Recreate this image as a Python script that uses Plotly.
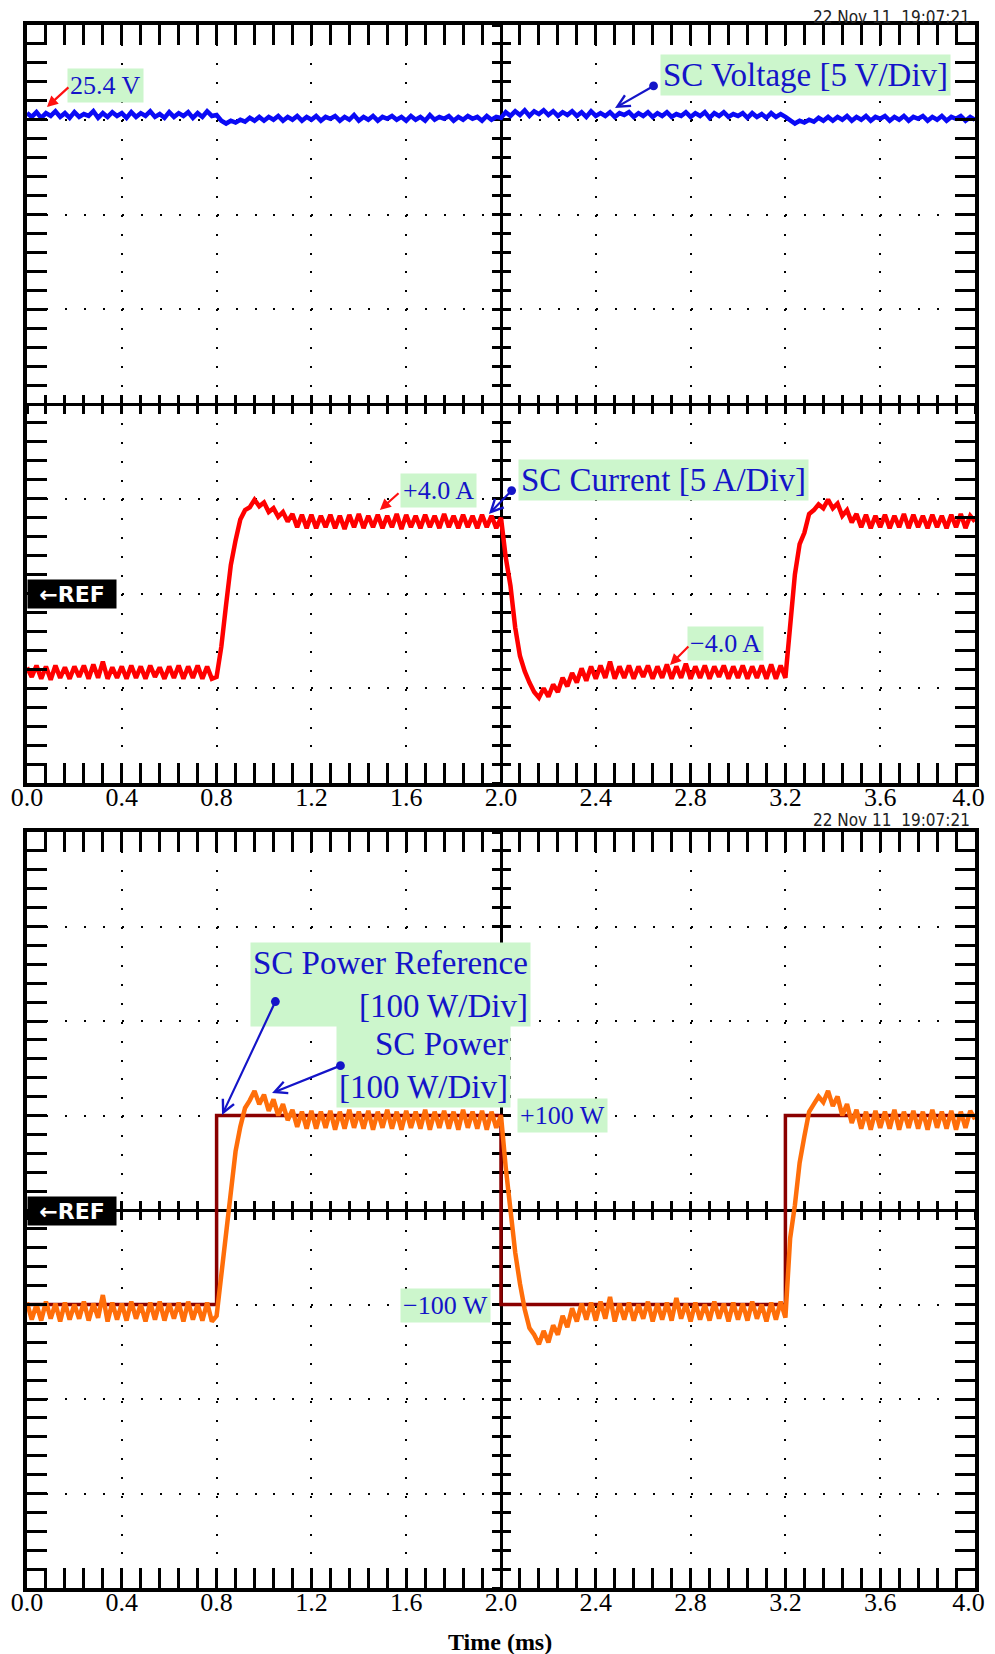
import plotly.graph_objects as go

# scope sample clock: 0.02 ms per point, 0 .. 4.0 ms
T_MS = [i / 50 for i in range(201)]

VOLTAGE_V = [
    25.35, 25.15, 25.4, 25.1, 25.35, 25.2, 25.45, 25.15, 25.35, 25.1,
    25.4, 25.15, 25.3, 25.2, 25.45, 25.1, 25.35, 25.15, 25.4, 25.2,
    25.35, 25.1, 25.4, 25.15, 25.35, 25.2, 25.45, 25.15, 25.3, 25.1,
    25.4, 25.15, 25.35, 25.2, 25.4, 25.1, 25.35, 25.15, 25.45, 25.2,
    25.25,
    24.95, 24.8, 24.95, 24.85, 25.0, 24.9, 25.1, 24.95, 25.15, 24.95,
    25.15, 25.0, 25.2, 24.95, 25.15, 25.0, 25.2, 24.95, 25.15, 25.0,
    25.2, 24.95, 25.15, 25.05, 25.2, 24.95, 25.15, 25.0, 25.25, 24.95,
    25.15, 25.0, 25.2, 24.95, 25.15, 25.05, 25.2, 25.0, 25.15, 24.95,
    25.2, 25.0, 25.15, 24.95, 25.25, 25.0, 25.15, 25.05, 25.2, 24.95,
    25.15, 25.0, 25.2, 25.05, 25.15, 24.95, 25.2, 25.0, 25.15, 25.1,
    25.4, 25.2, 25.45, 25.25, 25.5, 25.2, 25.45, 25.3, 25.5, 25.25,
    25.45, 25.2, 25.4, 25.25, 25.45, 25.2, 25.4, 25.15, 25.45, 25.2,
    25.35, 25.2, 25.4, 25.15, 25.35, 25.25, 25.4, 25.15, 25.35, 25.2,
    25.4, 25.15, 25.35, 25.2, 25.4, 25.15, 25.3, 25.2, 25.4, 25.15,
    25.35, 25.2, 25.4, 25.1, 25.35, 25.2, 25.4, 25.15, 25.3, 25.2,
    25.35, 25.1, 25.35, 25.15, 25.3, 25.1, 25.35, 25.15, 25.3, 25.15,
    24.95, 24.8, 24.95, 24.85, 25.0, 24.9, 25.1, 24.95, 25.15, 24.95,
    25.15, 25.0, 25.2, 24.95, 25.15, 25.0, 25.2, 24.95, 25.15, 25.05,
    25.2, 24.95, 25.15, 25.0, 25.2, 24.95, 25.15, 25.05, 25.2, 24.95,
    25.15, 25.0, 25.2, 24.95, 25.15, 25.05, 25.2, 24.95, 25.15, 25.0,
]

CURRENT_A = [
    -3.9, -4.4, -3.8, -4.5, -3.85, -4.55, -3.8, -4.45, -3.9, -4.5,
    -3.85, -4.4, -3.8, -4.5, -3.75, -4.45, -3.6, -4.5, -3.9, -4.45,
    -3.85, -4.5, -3.8, -4.45, -3.85, -4.5, -3.8, -4.4, -3.9, -4.5,
    -3.85, -4.45, -3.8, -4.5, -3.85, -4.45, -3.8, -4.5, -3.85, -4.5,
    -4.4,
    -2.8, -0.6, 1.5, 2.8, 3.9, 4.4, 4.55, 4.95, 4.6, 4.8,
    4.3, 4.5, 4.05, 4.3, 3.8, 4.2, 3.5, 4.15, 3.45, 4.15,
    3.45, 4.1, 3.5, 4.15, 3.45, 4.1, 3.4, 4.15, 3.5, 4.2,
    3.45, 4.1, 3.5, 4.15, 3.45, 4.1, 3.5, 4.2, 3.4, 4.15,
    3.5, 4.1, 3.45, 4.15, 3.5, 4.1, 3.45, 4.2, 3.5, 4.1,
    3.45, 4.15, 3.5, 4.1, 3.45, 4.15, 3.5, 4.1, 3.45, 4.0,
    1.9, 0.4, -1.8, -3.3, -4.1, -4.7, -5.2, -5.5, -5.0, -5.45,
    -4.8, -5.2, -4.45, -4.9, -4.2, -4.7, -3.95, -4.6, -3.85, -4.5,
    -3.8, -4.45, -3.6, -4.5, -3.85, -4.45, -3.8, -4.5, -3.85, -4.4,
    -3.8, -4.5, -3.85, -4.45, -3.75, -4.5, -3.85, -4.45, -3.7, -4.5,
    -3.85, -4.45, -3.8, -4.5, -3.85, -4.4, -3.8, -4.5, -3.85, -4.45,
    -3.8, -4.5, -3.85, -4.45, -3.8, -4.5, -3.75, -4.5, -3.8, -4.45,
    -1.5, 1.0, 2.6, 3.2, 4.2, 4.4, 4.7, 4.5, 4.95, 4.5,
    4.75, 4.1, 4.4, 3.75, 4.2, 3.5, 4.15, 3.45, 4.1, 3.5,
    4.15, 3.45, 4.1, 3.5, 4.2, 3.45, 4.15, 3.5, 4.1, 3.45,
    4.15, 3.5, 4.1, 3.45, 4.15, 3.5, 4.2, 3.45, 4.1, 3.8,
]

POWER_W = [
    -98, -116, -100, -117, -97, -115, -99, -118, -98, -116,
    -100, -115, -97, -117, -99, -114, -90, -118, -98, -116,
    -99, -117, -97, -115, -100, -118, -98, -116, -97, -117,
    -99, -115, -98, -118, -97, -116, -100, -117, -98, -118,
    -112,
    -70, -22, 12, 62, 88, 108, 116, 126, 112, 122,
    105, 117, 100, 112, 95, 106, 88, 104, 86, 105,
    86, 104, 87, 105, 85, 104, 86, 106, 87, 104,
    86, 105, 85, 104, 87, 106, 86, 104, 85, 105,
    87, 104, 86, 106, 85, 104, 87, 105, 86, 104,
    85, 106, 87, 104, 86, 105, 85, 104, 87, 100,
    45, -5, -45, -78, -105, -125, -132, -142, -128, -140,
    -122, -132, -112, -124, -104, -118, -99, -116, -98, -117,
    -97, -115, -92, -118, -99, -116, -98, -117, -100, -115,
    -97, -118, -99, -116, -98, -117, -93, -115, -99, -118,
    -98, -116, -100, -117, -97, -115, -99, -118, -98, -116,
    -99, -117, -97, -115, -100, -118, -98, -116, -97, -114,
    -30, 5, 50, 78, 104, 112, 120, 114, 126, 110,
    120, 100, 112, 92, 106, 86, 104, 85, 105, 87,
    104, 86, 106, 85, 104, 87, 105, 86, 104, 85,
    106, 87, 104, 86, 105, 85, 104, 87, 105, 96,
]

PREF_T = [0.0, 0.8, 0.8, 2.0, 2.0, 3.2, 3.2, 4.0]
PREF_W = [-100, -100, 100, 100, -100, -100, 100, 100]

X_TICKS = [0.0, 0.4, 0.8, 1.2, 1.6, 2.0, 2.4, 2.8, 3.2, 3.6, 4.0]
# trailing en space nudges the last label left so it stays on the page
X_TICKTEXT = ["0.0", "0.4", "0.8", "1.2", "1.6", "2.0", "2.4", "2.8", "3.2", "3.6",
              "4.0\u2002"]

# the page body keeps an 8 px margin, so lay the figure out 8 px in from the window edge
OFF = 8
FW, FH = 995 - OFF, 1654 - OFF


def xp(px):
    return (px - OFF) / FW


def yp(py):
    return 1 - (py - OFF) / FH


XD = [xp(27), xp(975)]
YD_TOP = [yp(783), yp(25)]
YD_BOT = [yp(1588), yp(832)]
X_MID = (XD[0] + XD[1]) / 2

SERIF = "Liberation Serif, Times New Roman, serif"
BLUE = "#1414c8"
GREEN = "#ccf6cc"
DOTS = "2px,16.96px"

fig = go.Figure()
fig.add_trace(go.Scatter(x=T_MS, y=VOLTAGE_V, mode="lines", line=dict(color="#0a0af5", width=4.5),
                         xaxis="x", yaxis="y", showlegend=False))
fig.add_trace(go.Scatter(x=T_MS, y=CURRENT_A, mode="lines", line=dict(color="#ff0000", width=4.5),
                         xaxis="x", yaxis="y", showlegend=False))
fig.add_trace(go.Scatter(x=PREF_T, y=PREF_W, mode="lines", line=dict(color="#8a0000", width=3.5),
                         xaxis="x2", yaxis="y2", showlegend=False))
fig.add_trace(go.Scatter(x=T_MS, y=POWER_W, mode="lines", line=dict(color="#ff6e0a", width=4.5),
                         xaxis="x2", yaxis="y2", showlegend=False))

# empty traces so the centre-cross axes get a subplot and are drawn
for xa, ya in [("x3", "y"), ("x4", "y"), ("x", "y3"), ("x", "y4"),
               ("x5", "y2"), ("x6", "y2"), ("x2", "y5"), ("x2", "y6")]:
    fig.add_trace(go.Scatter(x=[], y=[], xaxis=xa, yaxis=ya, showlegend=False, hoverinfo="skip"))


def frame_x(anchor):
    return dict(domain=XD, anchor=anchor, range=[0, 4], tickmode="array", tickvals=X_TICKS,
                ticktext=X_TICKTEXT, tickfont=dict(family=SERIF, size=26, color="black"),
                ticklabelstandoff=-12, ticklabeloverflow="allow",
                ticks="inside", ticklen=20, tickwidth=3, tickcolor="black",
                minor=dict(tickmode="linear", tick0=0, dtick=0.08, ticks="inside", ticklen=8,
                           tickwidth=2.5, tickcolor="black", showgrid=False),
                showline=True, linewidth=4, linecolor="black", mirror="allticks",
                showgrid=True, gridcolor="black", gridwidth=2, griddash=DOTS,
                zeroline=False, automargin=False, fixedrange=True)


def frame_y(anchor, domain, rng, step):
    return dict(domain=domain, anchor=anchor, range=rng, tickmode="linear", tick0=rng[0], dtick=step,
                showticklabels=False, ticks="inside", ticklen=20, tickwidth=3, tickcolor="black",
                minor=dict(tickmode="linear", tick0=rng[0], dtick=step / 5, ticks="inside", ticklen=8,
                           tickwidth=2.5, tickcolor="black", showgrid=False),
                showline=True, linewidth=4, linecolor="black", mirror="allticks",
                showgrid=True, gridcolor="black", gridwidth=2, griddash=DOTS,
                zeroline=False, automargin=False, fixedrange=True)


def cross_x(over, pos, side_ticks):
    return dict(overlaying=over, anchor="free", position=pos, range=[0, 4], tickmode="linear",
                tick0=0, dtick=0.08, ticks=side_ticks, ticklen=8, tickwidth=2.5, tickcolor="black",
                showticklabels=False, showline=True, linewidth=3, linecolor="black",
                showgrid=False, zeroline=False, layer="below traces", automargin=False,
                fixedrange=True)


def cross_y(over, rng, step, side_ticks):
    return dict(overlaying=over, anchor="free", position=X_MID, range=rng, tickmode="linear",
                tick0=rng[0], dtick=step / 5, ticks=side_ticks, ticklen=8, tickwidth=2.5,
                tickcolor="black", showticklabels=False, showline=True, linewidth=3,
                linecolor="black", showgrid=False, zeroline=False, layer="below traces",
                automargin=False, fixedrange=True)


top_mid = (YD_TOP[0] + YD_TOP[1]) / 2
bot_mid = (YD_BOT[0] + YD_BOT[1]) / 2

fig.update_layout(
    width=FW, height=FH, margin=dict(l=0, r=0, t=0, b=0, pad=0, autoexpand=False),
    paper_bgcolor="white", plot_bgcolor="white", showlegend=False,
    xaxis=frame_x("y"),
    yaxis=frame_y("x", YD_TOP, [-10, 30], 5),
    xaxis2=frame_x("y2"),
    yaxis2=frame_y("x2", YD_BOT, [-400, 400], 100),
    xaxis3=cross_x("x", top_mid, "inside"),
    xaxis4=cross_x("x", top_mid, "outside"),
    yaxis3=cross_y("y", [-10, 30], 5, "inside"),
    yaxis4=cross_y("y", [-10, 30], 5, "outside"),
    xaxis5=cross_x("x2", bot_mid, "inside"),
    xaxis6=cross_x("x2", bot_mid, "outside"),
    yaxis5=cross_y("y2", [-400, 400], 100, "inside"),
    yaxis6=cross_y("y2", [-400, 400], 100, "outside"),
)

anns = []


def label(text, x, y, xr, yr, size, align="center"):
    anns.append(dict(text=text, x=x, y=y, xref=xr, yref=yr, showarrow=False, align=align,
                     font=dict(family=SERIF, size=size, color=BLUE), bgcolor=GREEN, borderpad=2,
                     xanchor="center", yanchor="middle"))


def pointer(head, tail, xr, yr, color, dot):
    a = dict(text="", x=head[0], y=head[1], ax=tail[0], ay=tail[1], xref=xr, yref=yr,
             axref=xr, ayref=yr, showarrow=True, arrowcolor=color, arrowwidth=2.2)
    if dot:
        a.update(arrowhead=5, arrowsize=1.1, arrowside="end+start", startarrowhead=6,
                 startarrowsize=1.0)
    else:
        a.update(arrowhead=2, arrowsize=1.0)
    anns.append(a)


label("25.4 V", 0.33, 26.81, "x", "y", 26)
pointer((0.084, 25.67), (0.181, 26.78), "x", "y", "#ff1010", False)
label("SC Voltage [5 V/Div]", 3.283, 27.34, "x", "y", 33)
pointer((2.481, 25.62), (2.65, 26.83), "x", "y", BLUE, True)
label("+4.0 A", 1.736, 5.46, "x", "y", 26)
pointer((1.489, 4.41), (1.574, 5.36), "x", "y", "#ff1010", False)
label("SC Current [5 A/Div]", 2.686, 5.99, "x", "y", 33)
pointer((1.949, 4.20), (2.051, 5.51), "x", "y", BLUE, True)
label("\u22124.0 A", 2.947, -2.64, "x", "y", 26)
pointer((2.713, -3.77), (2.797, -2.72), "x", "y", "#ff1010", False)

label("SC Power Reference<br>[100 W/Div]", 1.532, 238.6, "x2", "y2", 33, "right")
pointer((0.823, 100.5), (1.051, 222.2), "x2", "y2", BLUE, True)
label("SC Power<br>[100 W/Div]", 1.675, 152.9, "x2", "y2", 33, "right")
pointer((1.034, 123.8), (1.329, 153.4), "x2", "y2", BLUE, True)
label("+100 W", 2.26, 99.5, "x2", "y2", 26)
label("\u2212100 W", 1.764, -101, "x2", "y2", 26)

# ground reference markers
for yc in (594, 1211):
    anns.append(dict(text="<b>\u2190REF</b>", x=xp(27), y=yp(yc), xref="paper", yref="paper",
                     xanchor="left", yanchor="middle", showarrow=False, bgcolor="black",
                     width=86, height=26, borderpad=1, align="center",
                     font=dict(family="DejaVu Sans, Liberation Sans, sans-serif",
                               size=22, color="white")))

# scope timestamps
for yb in (29, 832):
    anns.append(dict(text="22 Nov 11\u00a0\u00a019:07:21", x=xp(972), y=yp(yb),
                     xref="paper", yref="paper", xanchor="right", yanchor="bottom",
                     showarrow=False, font=dict(family="Liberation Sans Narrow, Arial Narrow, "
                                                "DejaVu Sans Condensed, Liberation Sans",
                                                size=17, color="#222")))

anns.append(dict(text="<b>Time (ms)</b>", x=xp(500), y=yp(1642), xref="paper", yref="paper",
                 xanchor="center", yanchor="middle", showarrow=False,
                 font=dict(family=SERIF, size=24, color="black")))

fig.update_layout(annotations=anns)
fig.write_html("out.html")
